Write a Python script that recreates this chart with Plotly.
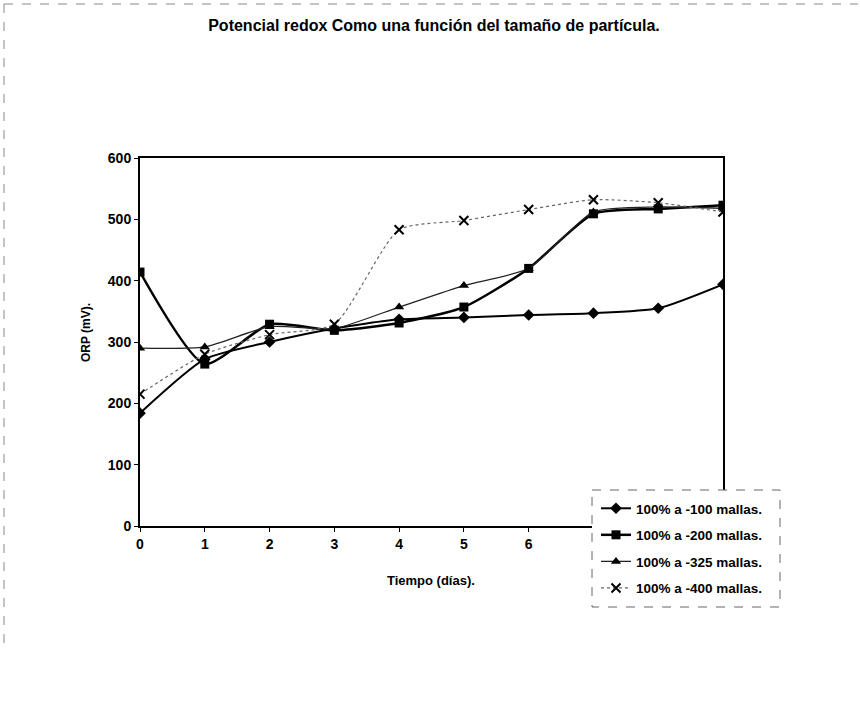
import plotly.graph_objects as go

dias = [0, 1, 2, 3, 4, 5, 6, 7, 8, 9]
etiquetas_x = ["0", "1", "2", "3", "4", "5", "6", "", "", ""]
malla_100 = [184, 272, 300, 322, 337, 340, 344, 347, 355, 394]
malla_200 = [414, 264, 329, 319, 331, 357, 420, 509, 517, 523]
malla_325 = [290, 292, 325, 322, 357, 392, 420, 512, 520, 518]
malla_400 = [215, 280, 312, 329, 483, 498, 516, 532, 527, 512]

nombres = ["100% a -100 mallas.", "100% a -200 mallas.",
           "100% a -325 mallas.", "100% a -400 mallas."]
titulo = "Potencial redox Como una función del tamaño de partícula."
titulo_x = "Tiempo (días)."
titulo_y = "ORP (mV)."

W, H = 860, 713
L, R, T, B = 140, 723, 158, 526
def px(x):
    return (x - L) / (R - L)
def py(y):
    return (B - y) / (B - T)

FONT = "Liberation Sans, Arial, sans-serif"

fig = go.Figure()
fig.add_trace(go.Scatter(x=dias, y=malla_100, name=nombres[0], mode="lines+markers",
                         line=dict(color="black", width=2, shape="spline", smoothing=0.6),
                         marker=dict(symbol="diamond", size=9, color="black"),
                         legendgroup="a"))
fig.add_trace(go.Scatter(x=dias, y=malla_200, name=nombres[1], mode="lines+markers",
                         line=dict(color="black", width=2.5, shape="spline", smoothing=0.6),
                         marker=dict(symbol="square", size=9, color="black"),
                         legendgroup="b"))
fig.add_trace(go.Scatter(x=dias, y=malla_325, name=nombres[2], mode="lines+markers",
                         line=dict(color="#222", width=1.3, shape="spline", smoothing=0.6),
                         marker=dict(symbol="triangle-up", size=9, color="black"),
                         legendgroup="c"))
fig.add_trace(go.Scatter(x=dias, y=malla_400, name=nombres[3], mode="lines+markers",
                         line=dict(color="#666", width=1.2, dash="dot", shape="spline", smoothing=0.6),
                         marker=dict(symbol="x-thin", size=9, color="black",
                                     line=dict(color="black", width=2)),
                         legendgroup="d"))

axis_common = dict(showline=True, linecolor="black", linewidth=2, mirror=True,
                   showgrid=False, zeroline=False, ticks="outside", ticklen=4,
                   tickcolor="black",
                   tickfont=dict(family=FONT, size=14, color="black", weight="bold"))
fig.update_xaxes(range=[0, 9], tickmode="array", tickvals=dias, ticktext=etiquetas_x,
                 **axis_common)
fig.update_yaxes(range=[0, 600], dtick=100, tick0=0, **axis_common)

fig.update_layout(
    width=W, height=H,
    margin=dict(l=L, r=W - R, t=T, b=H - B, pad=0),
    paper_bgcolor="white", plot_bgcolor="white",
    title=dict(text=titulo, x=434 / W, y=1 - 25 / H, xanchor="center", yanchor="middle",
               font=dict(family=FONT, size=16, color="black", weight="bold")),
    legend=dict(x=px(596), y=py(493), xanchor="left", yanchor="top",
                bgcolor="rgba(0,0,0,0)", borderwidth=0, tracegroupgap=6,
                font=dict(family=FONT, size=13.5, color="black", weight="bold")),
    showlegend=True,
    shapes=[
        dict(type="rect", xref="paper", yref="paper",
             x0=px(592), x1=px(780), y0=py(490), y1=py(607),
             fillcolor="white", line=dict(color="#666", width=1, dash="dash"),
             layer="above"),
        dict(type="line", xref="paper", yref="paper",
             x0=px(4), x1=px(858), y0=py(4), y1=py(4),
             line=dict(color="#888", width=1, dash="dash")),
        dict(type="line", xref="paper", yref="paper",
             x0=px(4), x1=px(4), y0=py(4), y1=py(650),
             line=dict(color="#888", width=1, dash="dash")),
    ],
    annotations=[
        dict(text=titulo_x, xref="paper", yref="paper", x=px(431), y=py(580),
             xanchor="center", yanchor="middle", showarrow=False,
             font=dict(family=FONT, size=13, color="black", weight="bold")),
        dict(text=titulo_y, xref="paper", yref="paper", x=px(86), y=py(333),
             xanchor="center", yanchor="middle", showarrow=False, textangle=-90,
             font=dict(family=FONT, size=12, color="black", weight="bold")),
    ],
)

fig.write_html("out.html", config={"displayModeBar": False},
               post_script="document.body.style.margin='0px';")
